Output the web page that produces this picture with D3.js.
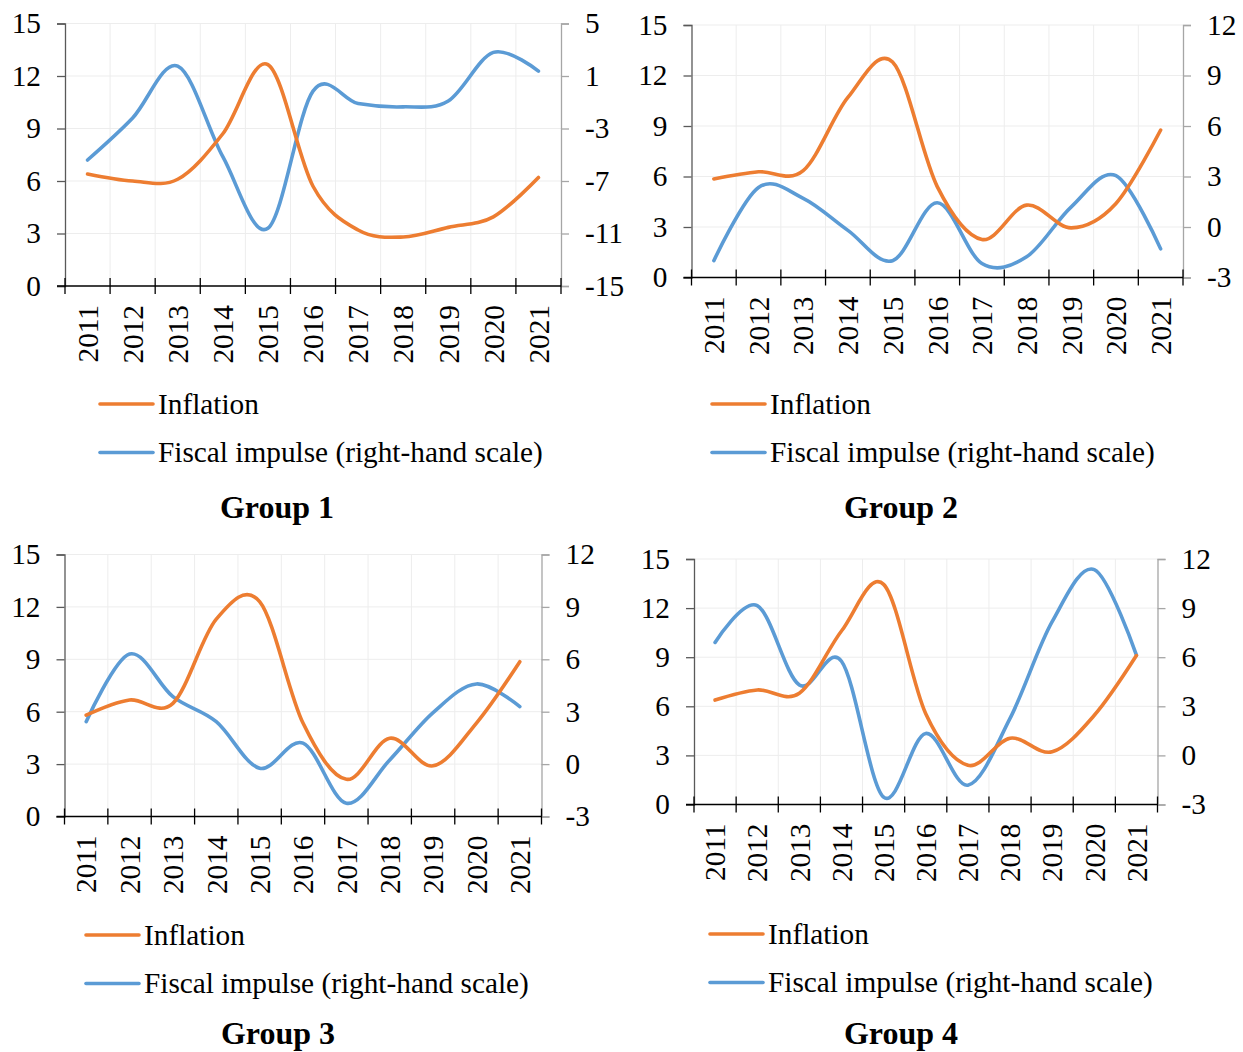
<!DOCTYPE html>
<html>
<head>
<meta charset="utf-8">
<script src="https://cdn.jsdelivr.net/npm/d3@7"></script>
<style>
  html, body { margin: 0; padding: 0; background: #fff; }
  svg { display: block; font-family: "Liberation Serif", "Times New Roman", serif; }
</style>
</head>
<body>
<svg id="chart" width="1243" height="1052"></svg>
<script>
// Years on the category axis
const years = ["2011","2012","2013","2014","2015","2016","2017","2018","2019","2020","2021"];

// Inflation (left-hand scale), per group
const inflationG1 = [6.4, 6.0, 6.1, 8.7, 12.65, 5.7, 3.2, 2.8, 3.35, 3.95, 6.2];
const inflationG2 = [5.85, 6.28, 6.35, 10.7, 12.8, 5.4, 2.26, 4.3, 2.95, 4.4, 8.76];
const inflationG3 = [5.8, 6.67, 6.48, 11.3, 12.3, 5.35, 2.13, 4.48, 2.9, 5.35, 8.86];
const inflationG4 = [6.38, 7.0, 6.8, 10.6, 13.45, 5.55, 2.4, 4.05, 3.22, 5.45, 9.1];

// Fiscal impulse (right-hand scale), per group
const fiscalG1 = [-5.4, -2.2, 1.75, -5.15, -10.6, -0.15, -1.1, -1.35, -0.9, 2.8, 1.37];
const fiscalG2 = [-2.0, 2.35, 1.7, -0.2, -2.0, 1.44, -2.17, -1.77, 1.2, 3.05, -1.3];
const fiscalG3 = [2.43, 6.3, 3.86, 2.43, -0.24, 1.2, -2.24, 0.24, 2.95, 4.59, 3.29];
const fiscalG4 = [6.9, 9.15, 4.3, 5.75, -2.55, 1.34, -1.82, 2.26, 8.17, 11.35, 6.13];

// Axis tick values
const leftTicks = [0, 3, 6, 9, 12, 15];
const rightTicksG1 = [-15, -11, -7, -3, 1, 5];
const rightTicksOther = [-3, 0, 3, 6, 9, 12];

// Legend and title texts
const seriesNames = ["Inflation", "Fiscal impulse (right-hand scale)"];
const groupTitles = ["Group 1", "Group 2", "Group 3", "Group 4"];

const ORANGE = "#ED7D31";
const BLUE = "#5B9BD5";
const FONT = 29.3;
const SERIF = '"Liberation Serif", "Times New Roman", serif';
const plain = d => String(d); // hyphen-minus for negatives

const panels = [
  { title: groupTitles[0], infl: inflationG1, fisc: fiscalG1, rTicks: rightTicksG1,
    box: { l: 65, r: 561, t: 23.5, b: 286 }, legend: { x: 100, y: 404 }, titlePos: { x: 277, y: 518 } },
  { title: groupTitles[1], infl: inflationG2, fisc: fiscalG2, rTicks: rightTicksOther,
    box: { l: 691.5, r: 1183, t: 25, b: 277.5 }, legend: { x: 712, y: 404 }, titlePos: { x: 901, y: 518 } },
  { title: groupTitles[2], infl: inflationG3, fisc: fiscalG3, rTicks: rightTicksOther,
    box: { l: 64.5, r: 541.5, t: 554.5, b: 816.5 }, legend: { x: 86, y: 935 }, titlePos: { x: 278, y: 1044 } },
  { title: groupTitles[3], infl: inflationG4, fisc: fiscalG4, rTicks: rightTicksOther,
    box: { l: 694, r: 1157.5, t: 559, b: 804.5 }, legend: { x: 710, y: 934 }, titlePos: { x: 901, y: 1044 } }
];

const svg = d3.select("#chart");

panels.forEach(p => {
  const { l, r, t, b } = p.box;
  const g = svg.append("g");

  const x = d3.scaleBand().domain(years).range([l, r]).padding(0);
  const yL = d3.scaleLinear().domain([0, 15]).range([b, t]);
  const yR = d3.scaleLinear().domain(d3.extent(p.rTicks)).range([b, t]);
  const cx = d => x(d) + x.bandwidth() / 2;

  // category boundaries
  const bounds = years.map(d => x(d)).concat([r]);

  // gridlines
  g.append("g").selectAll("line").data(leftTicks.filter(v => v > 0)).join("line")
    .attr("x1", l).attr("x2", r).attr("y1", d => yL(d)).attr("y2", d => yL(d))
    .attr("stroke", "#EDEDED").attr("stroke-width", 1);
  g.append("g").selectAll("line").data(bounds.slice(1, -1)).join("line")
    .attr("x1", d => d).attr("x2", d => d).attr("y1", t).attr("y2", b)
    .attr("stroke", "#EDEDED").attr("stroke-width", 1);

  // left axis
  const left = g.append("g").attr("transform", `translate(${l},0)`)
    .call(d3.axisLeft(yL).tickValues(leftTicks).tickSize(8).tickPadding(16).tickFormat(plain));
  left.select(".domain").attr("stroke", "#595959").attr("stroke-width", 1.3);
  left.selectAll(".tick line").attr("stroke", "#595959").attr("stroke-width", 1.3);
  left.selectAll("text").attr("font-size", FONT).attr("fill", "#000").style("font-family", SERIF);

  // right axis
  const right = g.append("g").attr("transform", `translate(${r},0)`)
    .call(d3.axisRight(yR).tickValues(p.rTicks).tickSize(8).tickPadding(16).tickFormat(plain));
  right.select(".domain").attr("stroke", "#A6A6A6").attr("stroke-width", 1.3);
  right.selectAll(".tick line").attr("stroke", "#A6A6A6").attr("stroke-width", 1.3);
  right.selectAll("text").attr("font-size", FONT).attr("fill", "#000").style("font-family", SERIF);

  // category axis with crossing ticks at boundaries
  g.append("line").attr("x1", l - 8).attr("x2", r).attr("y1", b).attr("y2", b)
    .attr("stroke", "#000").attr("stroke-width", 1.5);
  g.append("g").selectAll("line").data(bounds).join("line")
    .attr("x1", d => d).attr("x2", d => d).attr("y1", b - 8).attr("y2", b + 8)
    .attr("stroke", "#000").attr("stroke-width", 1.3);
  g.append("g").selectAll("text").data(years).join("text")
    .attr("transform", d => `translate(${cx(d)},${b + 19}) rotate(-90)`)
    .attr("text-anchor", "end").attr("dy", "0.35em")
    .attr("font-size", FONT).attr("fill", "#000").text(d => d);

  // series lines
  const lineL = d3.line().x((v, i) => cx(years[i])).y(v => yL(v)).curve(d3.curveCardinal.tension(0));
  const lineR = d3.line().x((v, i) => cx(years[i])).y(v => yR(v)).curve(d3.curveCardinal.tension(0));
  g.append("path").datum(p.fisc).attr("d", lineR)
    .attr("fill", "none").attr("stroke", BLUE).attr("stroke-width", 3.6).attr("stroke-linecap", "round");
  g.append("path").datum(p.infl).attr("d", lineL)
    .attr("fill", "none").attr("stroke", ORANGE).attr("stroke-width", 3.6).attr("stroke-linecap", "round");

  // legend
  const leg = g.append("g");
  [ORANGE, BLUE].forEach((c, i) => {
    const yy = p.legend.y + i * 48.5;
    leg.append("line").attr("x1", p.legend.x).attr("x2", p.legend.x + 53)
      .attr("y1", yy).attr("y2", yy).attr("stroke", c).attr("stroke-width", 3.6).attr("stroke-linecap", "round");
    leg.append("text").attr("x", p.legend.x + 58).attr("y", yy + 9.5)
      .attr("font-size", FONT).attr("fill", "#000").text(seriesNames[i]);
  });

  // group title
  g.append("text").attr("x", p.titlePos.x).attr("y", p.titlePos.y)
    .attr("text-anchor", "middle").attr("font-size", 32).attr("font-weight", "bold")
    .attr("fill", "#000").text(p.title);
});
</script>
</body>
</html>
